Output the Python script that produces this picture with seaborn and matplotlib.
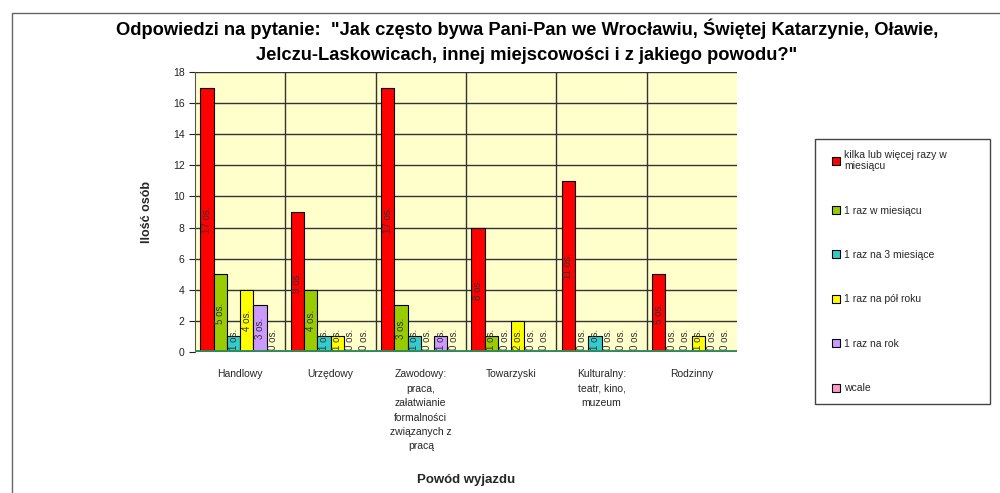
import pandas as pd
import seaborn as sns
import matplotlib.pyplot as plt
from matplotlib.patches import Rectangle
from matplotlib.legend_handler import HandlerPatch

# data
categories = ['Handlowy', 'Urzędowy',
              'Zawodowy:\npraca,\nzałatwianie\nformalności\nzwiązanych z\npracą',
              'Towarzyski', 'Kulturalny:\nteatr, kino,\nmuzeum', 'Rodzinny']
series = ['kilka lub więcej razy w\nmiesiącu', '1 raz w miesiącu', '1 raz na 3 miesiące',
          '1 raz na pół roku', '1 raz na rok', 'wcale']
kilka = [17, 9, 17, 8, 11, 5]
raz_miesiac = [5, 4, 3, 1, 0, 0]
raz_3mies = [1, 1, 1, 0, 1, 0]
raz_polrok = [4, 1, 0, 2, 0, 1]
raz_rok = [3, 0, 1, 0, 0, 0]
wcale = [0, 0, 0, 0, 0, 0]
colors = ['#FF0000', '#99CC00', '#33CCCC', '#FFFF00', '#CC99FF', '#FF99CC']
y_ticks = [0, 2, 4, 6, 8, 10, 12, 14, 16, 18]

values = [kilka, raz_miesiac, raz_3mies, raz_polrok, raz_rok, wcale]
rows = []
for s, vals in zip(series, values):
    for c, v in zip(categories, vals):
        rows.append({'powod': c, 'czestotliwosc': s, 'ilosc': v})
df = pd.DataFrame(rows)

sns.set_style('white')
plt.rcParams['font.family'] = ['Liberation Sans', 'DejaVu Sans']

fig = plt.figure(figsize=(10, 4.93), dpi=100)
ax = fig.add_axes([0.195, 0.286, 0.542, 0.568])
ax.set_facecolor('#FFFFCC')

sns.barplot(data=df, x='powod', y='ilosc', hue='czestotliwosc', palette=colors,
            hue_order=series, order=categories, width=0.88, edgecolor='black',
            linewidth=0.8, saturation=1, ax=ax, zorder=3)

# data labels inside the bars
for p in ax.patches:
    h = p.get_height()
    if p.get_width() == 0 or pd.isna(h):
        continue
    x = p.get_x() + p.get_width() / 2
    if h >= 3:
        ax.text(x, h / 2, f'{int(h)} os.', rotation=90, ha='center', va='center',
                fontsize=7, color='#333333', zorder=4)
    else:
        ax.text(x, 0.15, f'{int(h)} os.', rotation=90, ha='center', va='bottom',
                fontsize=7, color='#333333', zorder=4)

ax.set_ylim(0, 18)
ax.set_xlim(-0.5, len(categories) - 0.5)
ax.set_yticks(y_ticks)
ax.yaxis.grid(True, color='#333333', linewidth=1, zorder=0)
for i in range(1, len(categories)):
    ax.axvline(i - 0.5, color='#333333', linewidth=1, zorder=1)
ax.axhline(0, color='#2E8B57', linewidth=3.5, zorder=5)

for side in ['top', 'right', 'bottom']:
    ax.spines[side].set_visible(False)
ax.spines['left'].set_color('#555555')
ax.tick_params(axis='y', left=True, length=4, labelsize=7.5, colors='#222222')
ax.tick_params(axis='x', bottom=False, labelsize=7.5, pad=9)
for lbl in ax.get_xticklabels():
    lbl.set_linespacing(1.55)
    lbl.set_verticalalignment('top')

ax.set_ylabel('Ilość osób', fontsize=9, fontweight='bold', labelpad=14)
ax.set_xlabel('Powód wyjazdu', fontsize=9.5, fontweight='bold', labelpad=16)

fig.suptitle('Odpowiedzi na pytanie:  "Jak często bywa Pani-Pan we Wrocławiu, Świętej Katarzynie, Oławie,\n'
             'Jelczu-Laskowicach, innej miejscowości i z jakiego powodu?"',
             x=0.527, y=0.963, fontsize=13.2, fontweight='bold', color='black',
             linespacing=1.65)


def small_square(legend, orig_handle, xdescent, ydescent, width, height, fontsize):
    side = height * 1.1
    return Rectangle((width - side - xdescent, (height - side) / 2 - ydescent), side, side)


handles, labels = ax.get_legend_handles_labels()
ax.get_legend().remove()
fig.legend(handles, labels, loc='upper left', bbox_to_anchor=(0.81, 0.728, 0.185, 0.0),
           mode='expand', fontsize=7.5, labelspacing=3.3, handlelength=1.4, handleheight=0.7,
           handletextpad=0.4, borderpad=1.0, frameon=True, fancybox=False,
           edgecolor='#444444', framealpha=1,
           handler_map={h: HandlerPatch(patch_func=small_square) for h in handles})

# outer chart border
fig.add_artist(Rectangle((0.012, -0.05), 1.1, 1.05 - 13 / 493, transform=fig.transFigure,
                         fill=False, edgecolor='#666666', linewidth=1))

fig.savefig('out.png', dpi=100)
